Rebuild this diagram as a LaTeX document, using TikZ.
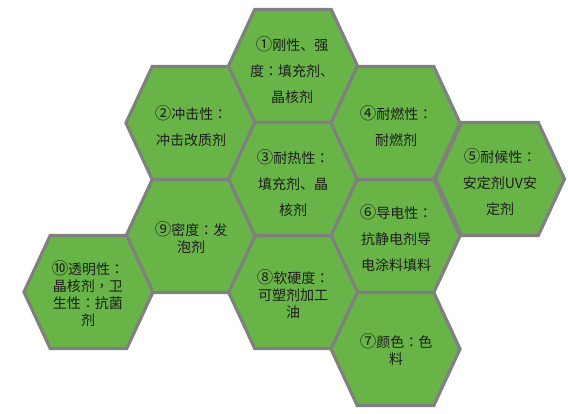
\documentclass[tikz,border=0pt]{standalone}
\usepackage{fontspec}
\newfontfamily\cjk{Noto Sans CJK SC}
\newfontfamily\cjktc{Noto Sans CJK TC}
\definecolor{hexgreen}{RGB}{104,180,70}
\definecolor{hexgray}{RGB}{128,128,128}
\definecolor{hextext}{RGB}{30,30,30}
\newcommand{\hexcell}[2]{%
  \filldraw[hexcell] (#1-64.5,#2) -- (#1-38.25,#2-56.5) -- (#1+38.25,#2-56.5) -- (#1+64.5,#2) -- (#1+38.25,#2+56.5) -- (#1-38.25,#2+56.5) -- cycle;}
\newcommand{\cnum}[1]{{\fontsize{16.5}{0}\selectfont #1}}
\newcommand{\fcolon}{{\cjktc ：}}
\newcommand{\fcomma}{{\cjktc ，}}
\begin{document}
\begin{tikzpicture}[x=1pt,y=-1pt,
  hexcell/.style={fill=hexgreen,draw=hexgray,line width=3.2pt,line join=miter},
  loose/.style={align=center,text=hextext,font=\cjk\fontsize{14}{26}\selectfont,inner sep=0pt},
  tight/.style={align=center,text=hextext,font=\cjk\fontsize{14}{17}\selectfont,inner sep=0pt}]
\useasboundingbox (0,0) rectangle (568,414);
\foreach \cx/\cy in {293/66, 190.5/123, 293/179, 395.5/123, 500/179, 395.5/236, 395.5/349, 293/292, 190.5/236, 88.5/292}{
  \hexcell{\cx}{\cy}
}
\node[loose] (t1) at (292,70) {\cnum{①}刚性、强\\度\fcolon 填充剂、\\晶核剂};
\node[loose] (t2) at (191,126) {\cnum{②}冲击性\fcolon\\冲击改质剂};
\node[loose] (t3) at (293,183) {\cnum{③}耐热性\fcolon\\填充剂、晶\\核剂};
\node[loose] (t4) at (396,126) {\cnum{④}耐燃性\fcolon\\耐燃剂};
\node[loose] (t5) at (500,182) {\cnum{⑤}耐候性\fcolon\\安定剂UV安\\定剂};
\node[loose] (t6) at (396,238) {\cnum{⑥}导电性\fcolon\\抗静电剂导\\电涂料填料};
\node[tight] (t7) at (396,350) {\cnum{⑦}颜色\fcolon 色\\料};
\node[tight] (t8) at (293,294) {\cnum{⑧}软硬度\fcolon\\可塑剂加工\\油};
\node[tight] (t9) at (191,238) {\cnum{⑨}密度\fcolon 发\\泡剂};
\node[tight] (t10) at (88,294) {\cnum{⑩}透明性\fcolon\\晶核剂\fcomma 卫\\生性\fcolon 抗菌\\剂};
\end{tikzpicture}
\end{document}
